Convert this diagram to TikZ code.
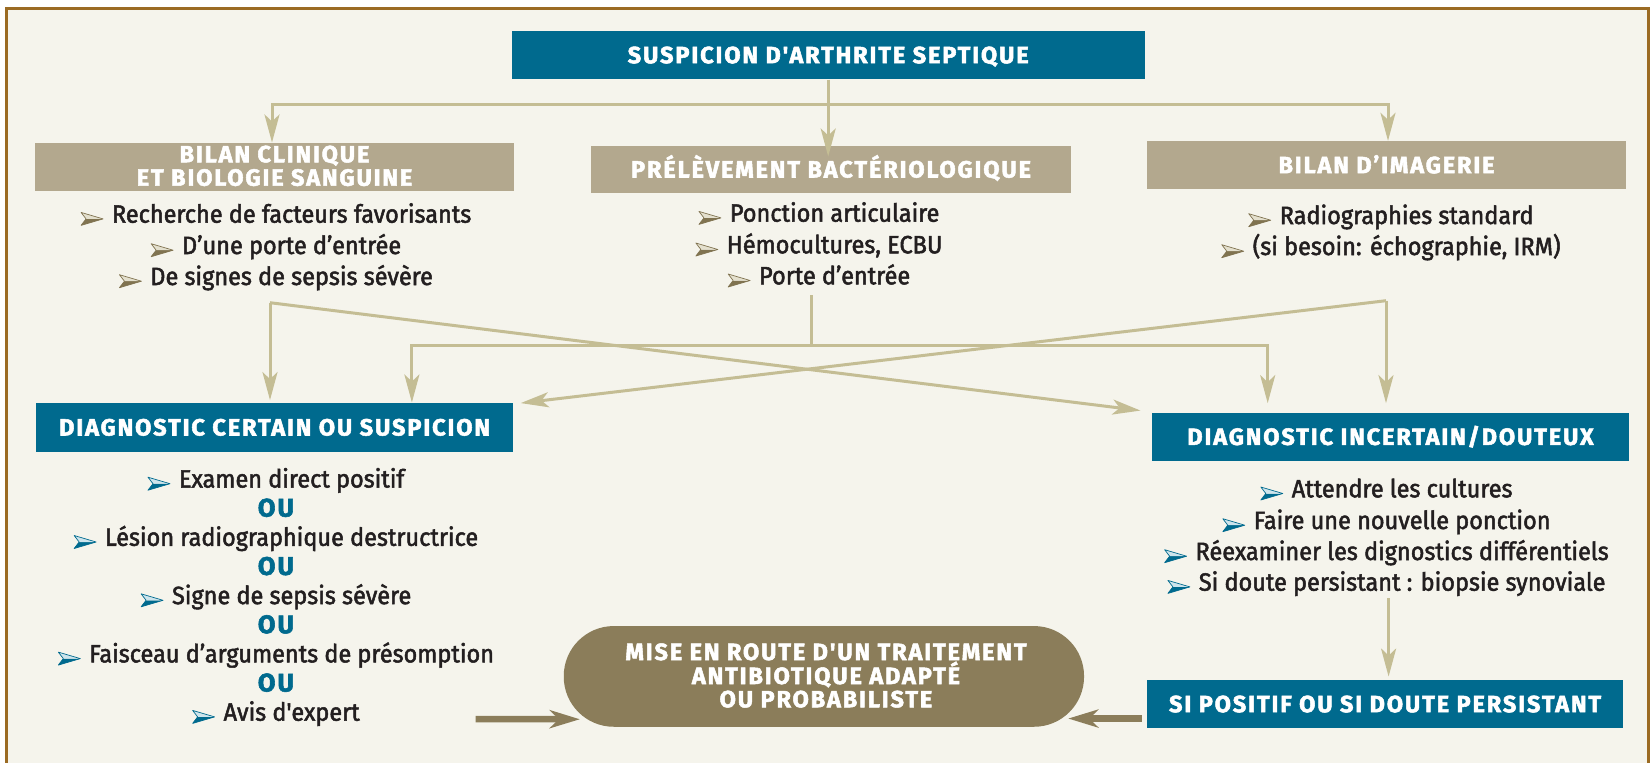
\documentclass[tikz,border=0pt]{standalone}
\usepackage{fontspec}
\setmainfont{Fira Sans}
\newfontfamily\bodyf{Fira Sans}[Ligatures=TeXOff,FakeBold=2,FakeStretch=0.94]
\newfontfamily\headf{Fira Sans}[Ligatures=TeXOff,LetterSpace=8,FakeBold=2.2]
\usetikzlibrary{arrows.meta,calc}

\definecolor{pagebg}{RGB}{245,244,236}
\definecolor{framec}{RGB}{155,107,35}
\definecolor{boxblue}{RGB}{0,106,142}
\definecolor{boxtan}{RGB}{179,168,142}
\definecolor{linkc}{RGB}{196,189,148}
\definecolor{olivec}{RGB}{139,125,90}
\definecolor{ink}{RGB}{35,31,32}
\definecolor{markdark}{RGB}{128,115,80}
\definecolor{marklight}{RGB}{228,224,206}
\definecolor{markpale}{RGB}{205,228,236}

% list markers: a top-lit arrowhead, drawn in two tones
\newcommand\tanmark{\tikz[x=1pt,y=1pt,baseline={(0,-2.7)}]{%
  \fill[markdark] (0,0) -- (22,6.5) -- (5,6.5) -- cycle;
  \fill[marklight] (0,13) -- (22,6.5) -- (5,6.5) -- cycle;
  \draw[markdark,line width=0.7pt,line join=round] (0,13) -- (22,6.5) -- (0,0) -- (5,6.5) -- cycle;}\hspace{8.6pt}}
\newcommand\bluemark{\tikz[x=1pt,y=1pt,baseline={(0,-2.7)}]{%
  \fill[boxblue] (0,0) -- (22,6.5) -- (5,6.5) -- cycle;
  \fill[markpale] (0,13) -- (22,6.5) -- (5,6.5) -- cycle;
  \draw[boxblue,line width=0.7pt,line join=round] (0,13) -- (22,6.5) -- (0,0) -- (5,6.5) -- cycle;}\hspace{8.6pt}}

\tikzset{
  headfont/.style={font=\headf\bfseries\fontsize{23.5}{23.4}\selectfont},
  boxbase/.style={inner sep=0pt, text=white, headfont, text height=16pt, text depth=0pt},
  bluebox/.style={boxbase, fill=boxblue},
  tanbox/.style={boxbase, fill=boxtan},
  boxline/.style={anchor=base, inner sep=0pt, text=white, headfont},
  item/.style={anchor=base, inner sep=0pt, text=ink, font=\bodyf\fontsize{25}{28}\selectfont},
  orword/.style={anchor=base, inner sep=0pt, text=boxblue, font=\headf\bfseries\fontsize{25.5}{28}\selectfont},
  conn/.style={draw=linkc, line width=3pt},
  tip/.style={conn, -{Stealth[length=28pt,width=15pt,inset=7pt]}},
  bothtips/.style={conn, {Stealth[length=28pt,width=15pt,inset=7pt]}-{Stealth[length=28pt,width=15pt,inset=7pt]}},
  heavy/.style={draw=olivec, line width=6.5pt, -{Stealth[length=30pt,width=18pt,inset=9pt]}},
}

\begin{document}
\begin{tikzpicture}[x=1pt,y=-1pt]
\useasboundingbox (0,0) rectangle (1652,763);
\fill[white] (0,0) rectangle (1652,763);
\fill[pagebg] (6.4,8) rectangle (1648,790);
\draw[framec, line width=3pt] (6.4,790) -- (6.4,8) -- (1648,8) -- (1648,790);

% ---- top of the chart
\node[bluebox, minimum width=633pt, minimum height=48.3pt] (top) at (828.2,55.2) {SUSPICION D'ARTHRITE SEPTIQUE};

\node[tanbox, minimum width=479pt, minimum height=48pt] (clin) at (274.5,166.7) {};
\node[boxline] (clinA) at (274.5,162.3) {BILAN CLINIQUE};
\node[boxline] (clinB) at (274.5,185.7) {ET BIOLOGIE SANGUINE};
\node[tanbox, minimum width=480pt, minimum height=47.6pt] (prel) at (831,169.5) {PRÉLÈVEMENT BACTÉRIOLOGIQUE};
\node[tanbox, minimum width=479.5pt, minimum height=48.3pt] (imag) at (1386.5,165.2) {BILAN D’IMAGERIE};

% ---- lists under the three work-ups
\node[item] (c1) at (276,222.7) {\tanmark Recherche de facteurs favorisants};
\node[item] (c2) at (276,254)   {\tanmark D’une porte d’entrée};
\node[item] (c3) at (276,285)   {\tanmark De signes de sepsis sévère};

\node[item] (p1) at (819,221.7) {\tanmark Ponction articulaire};
\node[item] (p2) at (819,253.3) {\tanmark Hémocultures, ECBU};
\node[item] (p3) at (819,284.3) {\tanmark Porte d’entrée};

\node[item] (i1) at (1391,224) {\tanmark Radiographies standard};
\node[item] (i2) at (1391,255) {\tanmark (si besoin: échographie, IRM)};

% ---- diagnostic boxes
\node[bluebox, minimum width=476.4pt, minimum height=48.4pt] (cert) at (274.6,427.5) {DIAGNOSTIC CERTAIN OU SUSPICION};
\node[bluebox, minimum width=477pt, minimum height=48.3pt] (incert) at (1390.5,436.9) {DIAGNOSTIC INCERTAIN/DOUTEUX};

\node[item]   (d1) at (276,487.5) {\bluemark Examen direct positif};
\node[orword] (o1) at (276,516.6) {OU};
\node[item]   (d2) at (276,545.8) {\bluemark Lésion radiographique destructrice};
\node[orword] (o2) at (276,574.9) {OU};
\node[item]   (d3) at (276,604.1) {\bluemark Signe de sepsis sévère};
\node[orword] (o3) at (276,633.2) {OU};
\node[item]   (d4) at (276,662.4) {\bluemark Faisceau d’arguments de présomption};
\node[orword] (o4) at (276,691.5) {OU};
\node[item]   (d5) at (276,720.7) {\bluemark Avis d'expert};

\node[item] (u1) at (1386.5,497.3) {\bluemark Attendre les cultures};
\node[item] (u2) at (1386.5,529)   {\bluemark Faire une nouvelle ponction};
\node[item] (u3) at (1386.5,560)   {\bluemark Réexaminer les dignostics différentiels};
\node[item] (u4) at (1386.5,590.7) {\bluemark Si doute persistant : biopsie synoviale};

\node[bluebox, minimum width=476.6pt, minimum height=48.3pt] (sipos) at (1385.1,704.2) {SI POSITIF OU SI DOUTE PERSISTANT};

% ---- treatment
\node[fill=olivec, rounded corners=50pt, minimum width=520.3pt, minimum height=100.7pt, inner sep=0pt] (mise) at (823.9,676.4) {};
\node[boxline] (miseA) at (826,660)   {MISE EN ROUTE D'UN TRAITEMENT};
\node[boxline] (miseB) at (826,684)   {ANTIBIOTIQUE ADAPTÉ};
\node[boxline] (miseC) at (826,707.3) {OU PROBABILISTE};

% ---- connectors, top level
\coordinate (hubL) at (272,104);
\coordinate (hubR) at (1388,104);
\draw[bothtips] (hubL |- clin.north) -- (hubL) -- (hubR) -- (hubR |- imag.north);
\draw[tip] (top.south) -- ($(top.south |- prel.north)+(0,11)$);

% ---- connectors, work-ups to diagnoses
\coordinate (cA) at (270,302.7);
\coordinate (cP) at (811.4,295);
\coordinate (cB) at (1386,300.7);
\coordinate (barL) at (411.9,345);
\coordinate (barR) at (1267.7,345);
\draw[tip] (cA) -- ($(cA |- cert.north)+(0,-3)$);
\draw[tip] (cA) -- ($(incert.north west)+(-11.3,-2)$);
\draw[conn] (cP) -- (cP |- barL);
\draw[bothtips] ($(barL |- cert.north)+(0,-0.6)$) -- (barL) -- (barR) -- ($(barR |- incert.north)+(0,-9.4)$);
\draw[tip] (cB) -- ($(cB |- incert.north)+(0,-9.4)$);
\draw[tip] (cB) -- ($(cert.north east)+(7.7,0)$);

% ---- connectors, towards treatment
\coordinate (cI) at (1388.6,598);
\draw[tip] (cI) -- ($(cI |- sipos.north)+(0,-3.3)$);
\coordinate (lf) at (475.7,719);
\draw[heavy] (lf) -- ($(mise.south west)+(16.3,-7.7)$);
\draw[heavy] ($(sipos.south west)+(-4.8,-10)$) -- ($(mise.south east)+(-16,-8.4)$);
\end{tikzpicture}
\end{document}
